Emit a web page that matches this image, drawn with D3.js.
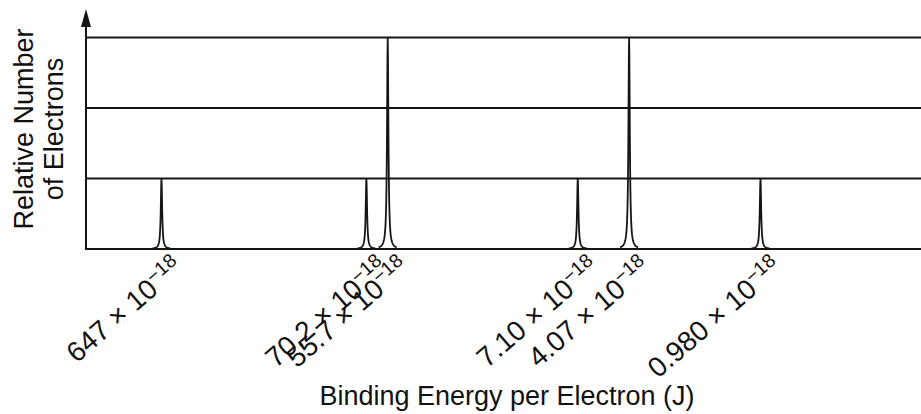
<!DOCTYPE html>
<html>
<head>
<meta charset="utf-8">
<script src="https://cdn.jsdelivr.net/npm/d3@7"></script>
<style>
  html, body { margin: 0; padding: 0; background: #fff; }
  svg text { font-family: "Liberation Sans", Arial, Helvetica, sans-serif; fill: #111; }
</style>
</head>
<body>
<svg id="chart" width="921" height="414"></svg>
<script>
// Binding energies (×10^-18 J) of each peak, and relative number of electrons
const energies = [647, 70.2, 55.7, 7.10, 4.07, 0.980];
const energyLabels = ["647", "70.2", "55.7", "7.10", "4.07", "0.980"];
const counts = [1, 1, 3, 1, 3, 1];
const gridValues = [1, 2, 3];
const xTitle = "Binding Energy per Electron (J)";
const yTitleLines = ["Relative Number", "of Electrons"];

const W = 921, H = 414;
const axisX = 86;
const svg = d3.select("#chart");

const x = d3.scaleLog().domain([1466, 0.216]).range([86, 900]);
const y = d3.scaleLinear().domain([0, 3]).range([249, 37.5]);

const ink = "#151515";

// grid lines
svg.append("g").selectAll("line").data(gridValues).join("line")
  .attr("x1", axisX).attr("x2", W)
  .attr("y1", d => y(d)).attr("y2", d => y(d))
  .attr("stroke", ink).attr("stroke-width", 2);

// peaks (narrow Lorentzian-shaped spikes)
const halfWidth = 9, gamma = 0.8;
const line = d3.line().x(d => d[0]).y(d => d[1]);
energies.forEach((e, i) => {
  const cx = x(e);
  const pts = [];
  for (let t = -halfWidth; t <= halfWidth; t += 0.25) {
    const v = counts[i] / (1 + (t / gamma) * (t / gamma));
    pts.push([cx + t, y(v)]);
  }
  svg.append("path").attr("d", line(pts))
    .attr("fill", "none").attr("stroke", ink).attr("stroke-width", 1.8);
});

// x axis line
svg.append("line").attr("x1", axisX).attr("x2", W)
  .attr("y1", y(0)).attr("y2", y(0))
  .attr("stroke", ink).attr("stroke-width", 2);

// y axis with arrow
svg.append("line").attr("x1", axisX).attr("x2", axisX)
  .attr("y1", y(0) + 1).attr("y2", 20)
  .attr("stroke", ink).attr("stroke-width", 2);
svg.append("path")
  .attr("d", `M${axisX},9 L${axisX - 5},27 L${axisX + 5},27 Z`)
  .attr("fill", ink);

// tick labels
const labels = svg.append("g").selectAll("text").data(energies).join("text")
  .attr("transform", d => `translate(${x(d) + 23},${y(0) + 21}) rotate(-41)`)
  .attr("text-anchor", "end")
  .attr("font-size", 28);
labels.append("tspan").text((d, i) => energyLabels[i] + " \u00d7 10");
labels.append("tspan").attr("font-size", 19.5).attr("dy", -10).text("\u221218");

// x title
svg.append("text").attr("x", 507).attr("y", 405)
  .attr("text-anchor", "middle").attr("font-size", 27).text(xTitle);

// y title
const yt = svg.append("text").attr("transform", "translate(33,129) rotate(-90)")
  .attr("text-anchor", "middle").attr("font-size", 27);
yTitleLines.forEach((t, i) => {
  yt.append("tspan").attr("x", 0).attr("y", i * 30).text(t);
});
</script>
</body>
</html>
